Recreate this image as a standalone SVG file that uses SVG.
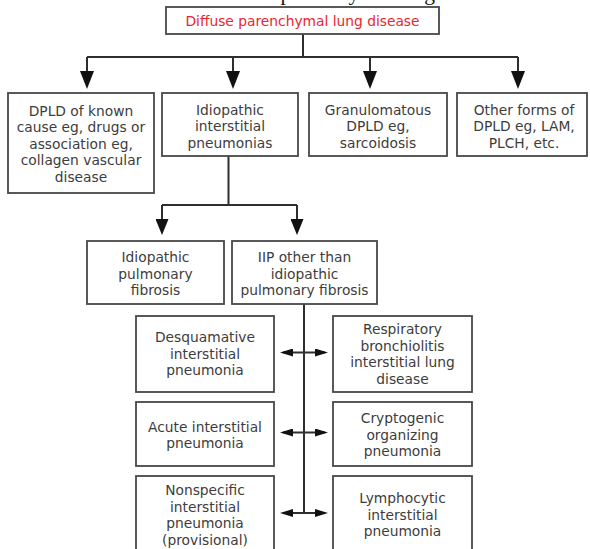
<svg xmlns="http://www.w3.org/2000/svg" width="590" height="549" viewBox="0 0 590 549">
  <style>
    .box { fill: #ffffff; stroke: #474747; stroke-width: 1.8; }
    .t { font-family: "DejaVu Sans", Verdana, sans-serif; font-size: 13.8px; fill: #3d3d3d; text-anchor: middle; }
    .red { fill: #e8262e; }
    .title { font-family: "Liberation Serif", "Times New Roman", serif; font-size: 21.5px; fill: #111111; }
    .wire { fill: none; stroke: #2e2e2e; stroke-width: 2; }
  </style>
  <defs>
    <marker id="headL" markerUnits="userSpaceOnUse" markerWidth="18" markerHeight="14" refX="14" refY="7" orient="auto">
      <path d="M0,0 L18,7 L0,14 z" fill="#111111"/>
    </marker>
    <marker id="headM" markerUnits="userSpaceOnUse" markerWidth="16" markerHeight="13" refX="12" refY="6.5" orient="auto">
      <path d="M0,0 L16,6.5 L0,13 z" fill="#111111"/>
    </marker>
    <marker id="headS" markerUnits="userSpaceOnUse" markerWidth="13" markerHeight="8" refX="10" refY="4" orient="auto-start-reverse">
      <path d="M0,0 L13,4 L0,8 z" fill="#111111"/>
    </marker>
  </defs>

  <!-- caption above the chart, mostly cut off by the top edge -->
  <text class="title" x="211" y="-0.5">Diffuse parenchymal lung disease</text>

  <g id="connectors">
    <!-- root to the four categories -->
    <path class="wire" d="M303,34 V57 M87,57 H518"/>
    <line class="wire" x1="87" y1="57" x2="87" y2="85" marker-end="url(#headL)"/>
    <line class="wire" x1="233" y1="57" x2="233" y2="85" marker-end="url(#headL)"/>
    <line class="wire" x1="370" y1="57" x2="370" y2="85" marker-end="url(#headL)"/>
    <line class="wire" x1="518" y1="57" x2="518" y2="85" marker-end="url(#headL)"/>
    <!-- IIP split -->
    <path class="wire" d="M228.5,156 V205 M162,205 H297"/>
    <line class="wire" x1="162" y1="205" x2="162" y2="231" marker-end="url(#headM)"/>
    <line class="wire" x1="297" y1="205" x2="297" y2="231" marker-end="url(#headM)"/>
    <!-- spine with two-way branches -->
    <path class="wire" d="M304,304 V513"/>
    <line class="wire" x1="283" y1="352.5" x2="325" y2="352.5" marker-start="url(#headS)" marker-end="url(#headS)"/>
    <line class="wire" x1="283" y1="432.5" x2="325" y2="432.5" marker-start="url(#headS)" marker-end="url(#headS)"/>
    <line class="wire" x1="283" y1="513" x2="325" y2="513" marker-start="url(#headS)" marker-end="url(#headS)"/>
  </g>

  <g id="dpld">
    <rect class="box" x="166" y="7" width="273" height="27"/>
    <text class="t red" x="302.5" y="25.5">Diffuse parenchymal lung disease</text>
  </g>

  <g id="known-cause">
    <rect class="box" x="8" y="93" width="146" height="100"/>
    <text class="t" x="81" y="115.5">DPLD of known</text>
    <text class="t" x="81" y="132">cause eg, drugs or</text>
    <text class="t" x="81" y="148.5">association eg,</text>
    <text class="t" x="81" y="165">collagen vascular</text>
    <text class="t" x="81" y="181.5">disease</text>
  </g>

  <g id="iip">
    <rect class="box" x="162" y="93" width="136" height="63"/>
    <text class="t" x="230" y="114.5">Idiopathic</text>
    <text class="t" x="230" y="131">interstitial</text>
    <text class="t" x="230" y="147.5">pneumonias</text>
  </g>

  <g id="granulomatous">
    <rect class="box" x="309" y="93" width="138" height="63"/>
    <text class="t" x="378" y="114.5">Granulomatous</text>
    <text class="t" x="378" y="131">DPLD eg,</text>
    <text class="t" x="378" y="147.5">sarcoidosis</text>
  </g>

  <g id="other-forms">
    <rect class="box" x="457" y="93" width="130" height="63"/>
    <text class="t" x="524" y="114.5">Other forms of</text>
    <text class="t" x="524" y="131">DPLD eg, LAM,</text>
    <text class="t" x="524" y="147.5">PLCH, etc.</text>
  </g>

  <g id="ipf">
    <rect class="box" x="87" y="241" width="137" height="63"/>
    <text class="t" x="155.5" y="262">Idiopathic</text>
    <text class="t" x="155.5" y="278.5">pulmonary</text>
    <text class="t" x="155.5" y="295">fibrosis</text>
  </g>

  <g id="iip-other">
    <rect class="box" x="232" y="241" width="145" height="63"/>
    <text class="t" x="304.5" y="262">IIP other than</text>
    <text class="t" x="304.5" y="278.5">idiopathic</text>
    <text class="t" x="304.5" y="295">pulmonary fibrosis</text>
  </g>

  <g id="dip">
    <rect class="box" x="136" y="316" width="138" height="76"/>
    <text class="t" x="205" y="342">Desquamative</text>
    <text class="t" x="205" y="358.5">interstitial</text>
    <text class="t" x="205" y="375">pneumonia</text>
  </g>

  <g id="rb-ild">
    <rect class="box" x="333" y="316" width="139" height="76"/>
    <text class="t" x="402.5" y="334">Respiratory</text>
    <text class="t" x="402.5" y="350.5">bronchiolitis</text>
    <text class="t" x="402.5" y="367">interstitial lung</text>
    <text class="t" x="402.5" y="383.5">disease</text>
  </g>

  <g id="aip">
    <rect class="box" x="136" y="402" width="138" height="64"/>
    <text class="t" x="205" y="431.5">Acute interstitial</text>
    <text class="t" x="205" y="448">pneumonia</text>
  </g>

  <g id="cop">
    <rect class="box" x="333" y="402" width="139" height="64"/>
    <text class="t" x="402.5" y="423">Cryptogenic</text>
    <text class="t" x="402.5" y="439.5">organizing</text>
    <text class="t" x="402.5" y="456">pneumonia</text>
  </g>

  <g id="nsip">
    <rect class="box" x="136" y="476" width="138" height="84"/>
    <text class="t" x="205" y="495">Nonspecific</text>
    <text class="t" x="205" y="511.5">interstitial</text>
    <text class="t" x="205" y="528">pneumonia</text>
    <text class="t" x="205" y="544.5">(provisional)</text>
  </g>

  <g id="lip">
    <rect class="box" x="333" y="476" width="139" height="84"/>
    <text class="t" x="402.5" y="503">Lymphocytic</text>
    <text class="t" x="402.5" y="519.5">interstitial</text>
    <text class="t" x="402.5" y="536">pneumonia</text>
  </g>
</svg>
